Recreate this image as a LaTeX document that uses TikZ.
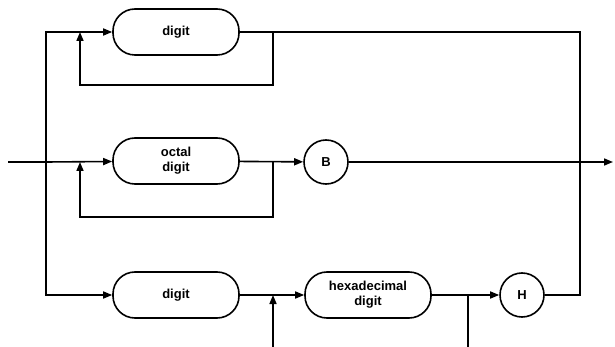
\documentclass[tikz,border=0pt]{standalone}
\usepackage{fontspec}
\setmainfont{Liberation Sans}
\usetikzlibrary{arrows.meta}
\usetikzlibrary{shapes}
\usetikzlibrary{positioning}

\begin{document}
\begin{tikzpicture}[x=1pt,y=-1pt,line width=1.6pt,
        >={Triangle[length=9pt,width=7pt]},
        font=\fontsize{13}{15}\selectfont\bfseries]
        \useasboundingbox (0,0) rectangle (615,347);
        \begin{scope}[every node/.style={rectangle,rounded corners=22pt,draw,
            minimum width=126pt,minimum height=46pt,align=center,inner sep=0pt}]
            \node (dig1) at (176,32) {digit};
            \node (oct) at (176,161) {octal\\digit};
            \node (dig2) at (176,295) {digit};
            \node (hex) at (368,295) {hexadecimal\\digit};
        \end{scope}
        \begin{scope}[every node/.style={circle,draw,minimum size=44pt,inner sep=0pt}]
            \node (B) at (326,162) {B};
            \node (H) at (522,295) {H};
        \end{scope}
        % branch points and loop corners
        \coordinate (start) at (8,162);
        \coordinate (end) at (613,162);
        \coordinate (split) at (46,162);
        \coordinate (rt) at (580,32);
        \coordinate (r1) at (273,32);
        \coordinate (r1b) at (273,85);
        \coordinate (l1) at (80,32);
        \coordinate (l1b) at (80,85);
        \coordinate (r2) at (273,162);
        \coordinate (r2b) at (273,217);
        \coordinate (l2) at (80,162);
        \coordinate (l2b) at (80,217);
        \coordinate (hr) at (468,295);
        \coordinate (hrb) at (468,347);
        \coordinate (hl) at (273,295);
        \coordinate (hlb) at (273,347);
        % entry and the three branches
        \draw (start) -- (split);
        \draw[->] (split) |- (dig1);
        \draw[->] (split) -- (oct);
        \draw[->] (split) |- (dig2);
        % decimal
        \draw (dig1) -- (rt) |- (H);
        \draw[->] (r1) -- (r1b) -- (l1b) -- (l1);
        % octal
        \draw[->] (oct) -- (B);
        \draw[->] (B) -- (end);
        \draw[->] (r2) -- (r2b) -- (l2b) -- (l2);
        % hexadecimal
        \draw[->] (dig2) -- (hex);
        \draw[->] (hex) -- (H);
        \draw (hr) -- (hrb);
        \draw[->] (hlb) -- (hl);
\end{tikzpicture}
\end{document}
